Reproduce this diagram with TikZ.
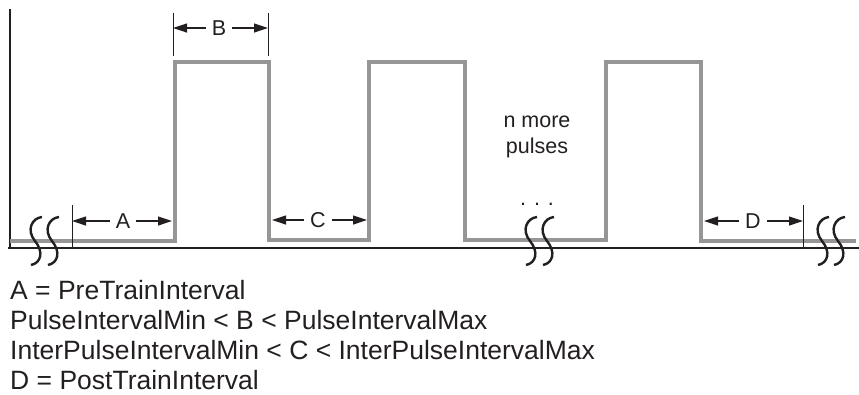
\documentclass[tikz,border=0pt]{standalone}
\usepackage{fontspec}
\setmainfont{Liberation Sans}
\usetikzlibrary{arrows.meta}
\definecolor{siggray}{RGB}{150,150,152}
\definecolor{ink}{RGB}{35,31,32}
\begin{document}
\begin{tikzpicture}[x=1pt,y=-1pt,
  sig/.style={draw=siggray,line width=4pt,line join=miter},
  axisline/.style={draw=ink,line width=2pt},
  tickline/.style={draw=ink,line width=1pt},
  dimline/.style={draw=ink,line width=1.2pt,-{Triangle[length=14pt,width=9pt]}},
  lab/.style={font=\fontsize{21.5}{25}\selectfont,text=ink,inner sep=6pt},
  legend/.style={font=\fontsize{26.5}{30}\selectfont,text=ink,anchor=base west,inner sep=0pt},
  brk/.style={draw=ink,line width=2.4pt}]
\useasboundingbox (0,0) rectangle (859,394);
% axes
\coordinate (ytop) at (10,9);
\coordinate (orig) at (10,248);
\coordinate (xstart) at (8,248);
\coordinate (xend) at (859,248);
\draw[axisline] (ytop) -- (orig);
\draw[axisline] (xstart) -- (xend);
% signal
\draw[sig] (10,241) -- (175,241) -- (175,62) -- (269,62) -- (269,240) -- (369,240)
  -- (369,62) -- (465,62) -- (465,240) -- (606,240) -- (606,62) -- (701,62)
  -- (701,241) -- (856,241);
% break symbols
\foreach \x in {36,53,531,548,823,839}{
  \draw[brk] (\x+6,217) .. controls (\x-4,218) and (\x-10,230) .. (\x-1,241)
    .. controls (\x+8,252) and (\x+5,263) .. (\x-5,265);
}
% ticks
\coordinate (tAt) at (72,205); \coordinate (tAb) at (72,248);
\coordinate (tB1t) at (173,13); \coordinate (tB1b) at (173,56);
\coordinate (tB2t) at (268,13); \coordinate (tB2b) at (268,56);
\coordinate (tDt) at (803,205); \coordinate (tDb) at (803,248);
\draw[tickline] (tAt) -- (tAb);
\draw[tickline] (tB1t) -- (tB1b);
\draw[tickline] (tB2t) -- (tB2b);
\draw[tickline] (tDt) -- (tDb);
% dimension labels and arrows
\node[lab] (A) at (123,221) {A};
\coordinate (aL) at (72,221); \coordinate (aR) at (172,221);
\draw[dimline] (A.west) -- (aL);
\draw[dimline] (A.east) -- (aR);
\node[lab] (B) at (219,28) {B};
\coordinate (bL) at (173,28); \coordinate (bR) at (268,28);
\draw[dimline] (B.west) -- (bL);
\draw[dimline] (B.east) -- (bR);
\node[lab] (C) at (318,220) {C};
\coordinate (cL) at (272,220); \coordinate (cR) at (367,220);
\draw[dimline] (C.west) -- (cL);
\draw[dimline] (C.east) -- (cR);
\node[lab] (D) at (753,221) {D};
\coordinate (dL) at (704,221); \coordinate (dR) at (803,221);
\draw[dimline] (D.west) -- (dL);
\draw[dimline] (D.east) -- (dR);
% n more pulses
\node[lab,anchor=base,inner sep=0pt] (nmore) at (537,127) {n more};
\node[lab,anchor=base,inner sep=0pt] (pulses) at (537,153) {pulses};
\node[lab,anchor=base,inner sep=0pt] (dots) at (537,205) {. . .};
% legend
\node[legend] (l1) at (10,299) {A = PreTrainInterval};
\node[legend] (l2) at (10,329) {PulseIntervalMin < B < PulseIntervalMax};
\node[legend] (l3) at (10,359) {InterPulseIntervalMin < C < InterPulseIntervalMax};
\node[legend] (l4) at (10,389) {D = PostTrainInterval};
\end{tikzpicture}
\end{document}
